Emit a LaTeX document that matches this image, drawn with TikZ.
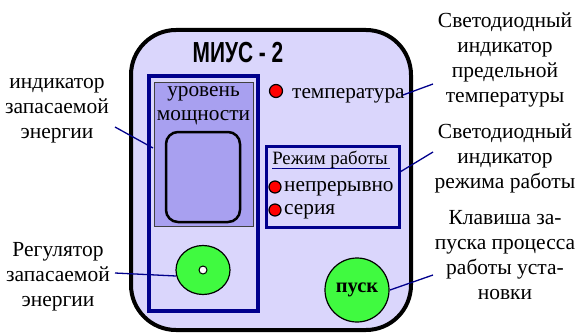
\documentclass[tikz,border=0pt]{standalone}
\usepackage{fontspec}
\usetikzlibrary{shapes.geometric}
\setmainfont{Liberation Serif}
\newfontfamily\titlefont{Liberation Sans}
\definecolor{lav}{RGB}{218,214,252}
\definecolor{purp}{RGB}{168,160,240}
\definecolor{grn}{RGB}{64,250,64}
\definecolor{navy}{RGB}{0,0,140}
\begin{document}
\begin{tikzpicture}[x=1pt,y=-1pt,
  lbl/.style={align=center,inner sep=0pt,font=\fontsize{21.5}{25}\selectfont},
  txt/.style={inner sep=0pt,font=\fontsize{21.3}{25}\selectfont},
  led/.style={fill=red,draw=black,line width=1.2pt},
  conn/.style={draw=navy,line width=1.3pt}]
\useasboundingbox (0,0) rectangle (577,334);
% main body
\draw[line width=4pt,fill=lav,rounded corners=45pt] (131,30) rectangle (411,330);
\node[font=\titlefont\bfseries\fontsize{29}{29}\selectfont,xscale=0.72] (title) at (238,53) {МИУС - 2};
% left panel
\draw[navy,line width=3.5pt] (149,76) rectangle (258,311);
\draw[fill=purp,draw=black!75,line width=1pt] (154,83) rectangle (253,226);
\node[txt] (lvl1) at (203.5,94) {уровень};
\node[txt] (lvl2) at (203.5,118) {мощности};
\draw[fill=purp,line width=2.5pt,rounded corners=12pt] (166,132) rectangle (240,222);
\node[draw=black,line width=1.2pt,fill=grn,ellipse,minimum width=54pt,minimum height=49pt,inner sep=0pt] (knob) at (203,270) {};
\node[draw=black,line width=1pt,fill=white,circle,minimum size=8pt,inner sep=0pt] (dot) at (203,270) {};
% temperature LED
\node[led,circle,minimum size=13pt,inner sep=0pt] (ledt) at (276,91) {};
\node[txt,anchor=west] (temp) at (292,96) {температура};
% mode box
\draw[navy,line width=3pt] (266,146) rectangle (399,227);
\node[txt,font=\fontsize{18.8}{20}\selectfont] (mode) at (330,160) {Режим работы};
\draw[navy,line width=1pt] (272,168) -- (390,168);
\node[led,circle,minimum size=12pt,inner sep=0pt] (led1) at (275,187) {};
\node[led,circle,minimum size=12pt,inner sep=0pt] (led2) at (275,210) {};
\node[txt,anchor=west] (cont) at (284,189) {непрерывно};
\node[txt,anchor=west] (ser) at (284,212) {серия};
% start button
\node[draw=black,line width=1.2pt,fill=grn,circle,minimum size=64pt,inner sep=0pt,font=\bfseries\fontsize{20.5}{21}\selectfont] (start) at (357,290) {пуск};
% labels
\node[lbl] (L1) at (57,111) {индикатор\\запасаемой\\энергии};
\node[lbl] (L2) at (58,277) {Регулятор\\запасаемой\\энергии};
\node[lbl] (R1) at (505,60) {Светодиодный\\индикатор\\предельной\\температуры};
\node[lbl] (R2) at (505,158) {Светодиодный\\индикатор\\режима работы};
\node[lbl] (R3) at (505,255) {Клавиша за-\\пуска процесса\\работы уста-\\новки};
% connector ends
\coordinate (a1) at (115,127); \coordinate (b1) at (153,148);
\coordinate (a2) at (115,273); \coordinate (b2) at (176,276);
\coordinate (a3) at (433,84);  \coordinate (b3) at (403,95);
\coordinate (a4) at (433,152); \coordinate (b4) at (400,172);
\coordinate (a5) at (433,275); \coordinate (b5) at (390,290);
\draw[conn] (a1) -- (b1);
\draw[conn] (a2) -- (b2);
\draw[conn] (a3) -- (b3);
\draw[conn] (a4) -- (b4);
\draw[conn] (a5) -- (b5);
\end{tikzpicture}
\end{document}
